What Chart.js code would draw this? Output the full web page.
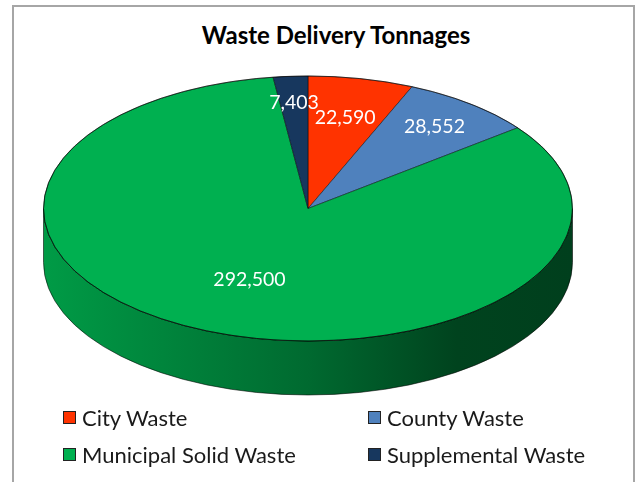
<!DOCTYPE html>
<html>
<head>
<meta charset="utf-8">
<script src="https://cdn.jsdelivr.net/npm/chart.js@4.4.1/dist/chart.umd.min.js"></script>
<style>
html, body { margin: 0; padding: 0; background: #fff; }
#wrap { position: relative; width: 636px; height: 482px; overflow: hidden; font-family: Lato, 'Noto Sans', sans-serif; }
#frame { position: absolute; left: 12px; top: 5px; width: 623px; height: 500px; border: 2px solid #a6a6a6; box-sizing: border-box; }
#title { position: absolute; left: 0; width: 672px; top: 20px; text-align: center; font-weight: bold; font-size: 24px; color: #000; }
canvas { position: absolute; left: 0; top: 0; }
#legend { position: absolute; left: 63px; top: 399px; display: grid; grid-template-columns: 305px auto; }
#legend .item { display: flex; align-items: center; height: 37px; font-size: 22px; color: #1a1a1a; white-space: nowrap; }
#legend .box { width: 11px; height: 11px; border: 1.5px solid #222; margin-right: 6px; }
</style>
</head>
<body>
<div id="wrap">
  <div id="frame"></div>
  <div id="title">Waste Delivery Tonnages</div>
  <canvas id="pie" width="636" height="482"></canvas>
  <div id="legend"></div>
</div>
<script>
const labels = ['City Waste', 'County Waste', 'Municipal Solid Waste', 'Supplemental Waste'];
const tonnages = [22590, 28552, 292500, 7403];
const colors = ['#ff3300', '#4f81bd', '#00b050', '#17375e'];

// look of the tilted pie
const RX = 264.5, RY = 132.5, DEPTH = 54;
const labelRadius = [0.7, 0.78, 0.58, 0.8]; // share of radius where each value sits

function shade(hex, f){
  const n = parseInt(hex.slice(1), 16);
  const r = Math.round(((n >> 16) & 255) * f), g = Math.round(((n >> 8) & 255) * f), b = Math.round((n & 255) * f);
  return `rgb(${r},${g},${b})`;
}

// parts of [s,e] that face the viewer (canvas angles 0..PI)
function frontRanges(s, e){
  const out = [];
  for (const off of [-2 * Math.PI, 0, 2 * Math.PI]) {
    const a = Math.max(s, off), b = Math.min(e, off + Math.PI);
    if (b > a) out.push([a - off, b - off]);
  }
  return out;
}

const tilt3d = {
  id: 'tilt3d',
  beforeDatasetsDraw(chart){
    const ctx = chart.ctx;
    const arcs = chart.getDatasetMeta(0).data;
    const cx = arcs[0].x, cy = arcs[0].y;
    arcs.forEach((arc, i) => {
      frontRanges(arc.startAngle, arc.endAngle).forEach(([a, b]) => {
        const g = ctx.createLinearGradient(cx - RX, 0, cx + RX, 0);
        g.addColorStop(0, shade(colors[i], 0.88));
        g.addColorStop(0.5, shade(colors[i], 0.6));
        g.addColorStop(0.78, shade(colors[i], 0.38));
        g.addColorStop(1, shade(colors[i], 0.36));
        ctx.beginPath();
        ctx.ellipse(cx, cy, RX, RY, 0, a, b, false);
        ctx.ellipse(cx, cy + DEPTH, RX, RY, 0, b, a, true);
        ctx.closePath();
        ctx.fillStyle = g;
        ctx.fill();
        ctx.strokeStyle = 'rgba(0,0,0,0.55)';
        ctx.lineWidth = 1;
        ctx.stroke();
      });
    });
    ctx.save();
    ctx.translate(cx, cy);
    ctx.scale(1, RY / RX);
    ctx.translate(-cx, -cy);
  },
  afterDatasetsDraw(chart){
    const ctx = chart.ctx;
    ctx.restore();
    const arcs = chart.getDatasetMeta(0).data;
    const cx = arcs[0].x, cy = arcs[0].y;
    ctx.beginPath();
    ctx.ellipse(cx, cy, RX, RY, 0, 0, 2 * Math.PI);
    ctx.strokeStyle = 'rgba(0,0,0,0.6)';
    ctx.lineWidth = 1;
    ctx.stroke();

    ctx.font = '19.5px Lato, "Noto Sans", sans-serif';
    ctx.fillStyle = '#fff';
    ctx.textAlign = 'center';
    ctx.textBaseline = 'middle';
    arcs.forEach((arc, i) => {
      const mid = (arc.startAngle + arc.endAngle) / 2;
      const f = labelRadius[i];
      const x = cx + RX * f * Math.cos(mid);
      const y = cy + RY * f * Math.sin(mid);
      ctx.fillText(tonnages[i].toLocaleString('en-US'), x, y);
    });
  }
};

const ctx = document.getElementById('pie').getContext('2d');
const chart = new Chart(ctx, {
  type: 'pie',
  data: {
    labels: labels,
    datasets: [{
      data: tonnages,
      backgroundColor: colors,
      borderColor: 'rgba(0,0,0,0.6)',
      borderWidth: 1,
      radius: RX,
      clip: false
    }]
  },
  options: {
    responsive: false,
    animation: false,
    events: [],
    layout: { padding: { left: 0, right: 20, top: 0, bottom: 65 } },
    plugins: {
      legend: { display: false },
      tooltip: { enabled: false },
      title: { display: false }
    }
  },
  plugins: [tilt3d]
});

const legendEl = document.getElementById('legend');
labels.forEach((l, i) => {
  const d = document.createElement('div');
  d.className = 'item';
  d.innerHTML = `<span class="box" style="background:${colors[i]}"></span>${l}`;
  legendEl.appendChild(d);
});
</script>
</body>
</html>
